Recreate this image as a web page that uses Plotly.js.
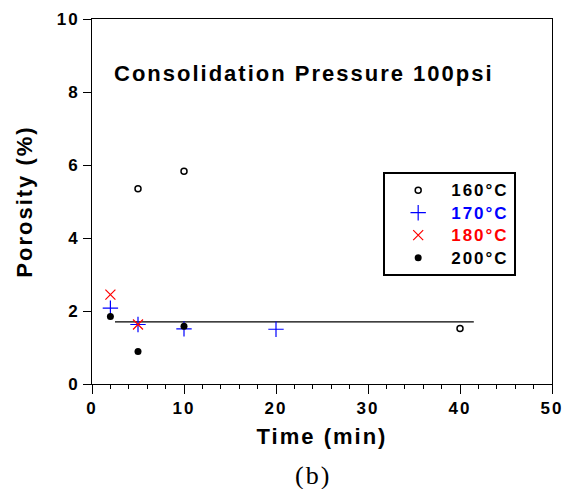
<!DOCTYPE html>
<html>
<head>
<meta charset="utf-8">
<script src="https://cdn.plot.ly/plotly-3.0.1.min.js"></script>
<style>
body{margin:0;padding:0;background:#fff;}
#chart{width:570px;height:489px;}
text{letter-spacing:2px;}
</style>
</head>
<body>
<div id="chart"></div>
<script>
// Data
const t160 = [5, 10, 40];
const p160 = [5.35, 5.83, 1.52];
const t170 = [2, 5, 10, 20];
const p170 = [2.08, 1.63, 1.51, 1.50];
const t180 = [2, 5];
const p180 = [2.45, 1.63];
const t200 = [2, 5, 10];
const p200 = [1.85, 0.89, 1.58];
const fitT = [2.5, 41.5];
const fitP = [1.70, 1.70];
const seriesNames = ['160°C', '170°C', '180°C', '200°C'];
const seriesColors = ['#000000', '#0000ff', '#ff0000', '#000000'];
const xTicks = [0, 10, 20, 30, 40, 50];
const yTicks = [0, 2, 4, 6, 8, 10];

const F = 'Liberation Sans, Arial, sans-serif';
const nm = (i) => '<span style="color:' + seriesColors[i] + ';font-size:17px">' + seriesNames[i] + '</span>';

const traces = [
  {x: fitT, y: fitP, mode: 'lines', line: {color: '#000', width: 1.3}, showlegend: false, hoverinfo: 'skip'},
  {x: t160, y: p160, mode: 'markers', name: nm(0),
   marker: {symbol: 'circle-open', size: 6, color: '#000', line: {width: 1.5, color: '#000'}}},
  {x: t170, y: p170, mode: 'markers', name: nm(1),
   marker: {symbol: 'cross-thin-open', size: 11, color: '#0000ff', line: {width: 1.2, color: '#0000ff'}}},
  {x: t180, y: p180, mode: 'markers', name: nm(2),
   marker: {symbol: 'x-thin-open', size: 10, color: '#ff0000', line: {width: 1.2, color: '#ff0000'}}},
  {x: t200, y: p200, mode: 'markers', name: nm(3),
   marker: {symbol: 'circle', size: 7, color: '#000'}}
];

const layout = {
  width: 570, height: 489,
  margin: {l: 92, r: 18, t: 19, b: 105},
  paper_bgcolor: '#fff', plot_bgcolor: '#fff',
  font: {family: F, color: '#000'},
  showlegend: true,
  legend: {
    x: 0.633, y: 0.581, xanchor: 'left', yanchor: 'top',
    bordercolor: '#000', borderwidth: 2, bgcolor: '#fff',
    font: {family: F, size: 15, weight: 'bold', color: '#000'},
    itemwidth: 56, tracegroupgap: 0
  },
  xaxis: {
    range: [0, 50], tickvals: xTicks, ticktext: xTicks.map(String),
    ticks: 'outside', ticklen: 9, tickwidth: 1, tickcolor: '#000',
    minor: {dtick: 2, ticks: 'outside', ticklen: 4, tickwidth: 1, tickcolor: '#000', showgrid: false},
    showline: true, linecolor: '#000', linewidth: 1, mirror: true,
    showgrid: false, zeroline: false,
    tickfont: {family: F, size: 17, weight: 'bold', color: '#000'},
    title: {text: 'Time (min)', font: {family: F, size: 22, weight: 'bold', color: '#000'}, standoff: 11}
  },
  yaxis: {
    range: [0, 10], tickvals: yTicks, ticktext: yTicks.map(String),
    ticks: 'outside', ticklen: 8, tickwidth: 1, tickcolor: '#000',
    showline: true, linecolor: '#000', linewidth: 1, mirror: true,
    showgrid: false, zeroline: false,
    tickfont: {family: F, size: 17, weight: 'bold', color: '#000'},
    title: {text: 'Porosity (%)', font: {family: F, size: 22, weight: 'bold', color: '#000'}, standoff: 17}
  },
  annotations: [
    {text: 'Consolidation Pressure 100psi', x: 2.2, y: 8.5, xref: 'x', yref: 'y',
     xanchor: 'left', yanchor: 'middle', showarrow: false,
     font: {family: F, size: 22, weight: 'bold', color: '#000'}},
    {text: '(b)', x: (313 - 92) / 460, y: (384 - 475) / 365, xref: 'paper', yref: 'paper',
     xanchor: 'center', yanchor: 'middle', showarrow: false,
     font: {family: 'Liberation Serif, Times New Roman, serif', size: 26, color: '#000'}}
  ]
};

Plotly.newPlot('chart', traces, layout, {displayModeBar: false, staticPlot: true});
</script>
</body>
</html>
